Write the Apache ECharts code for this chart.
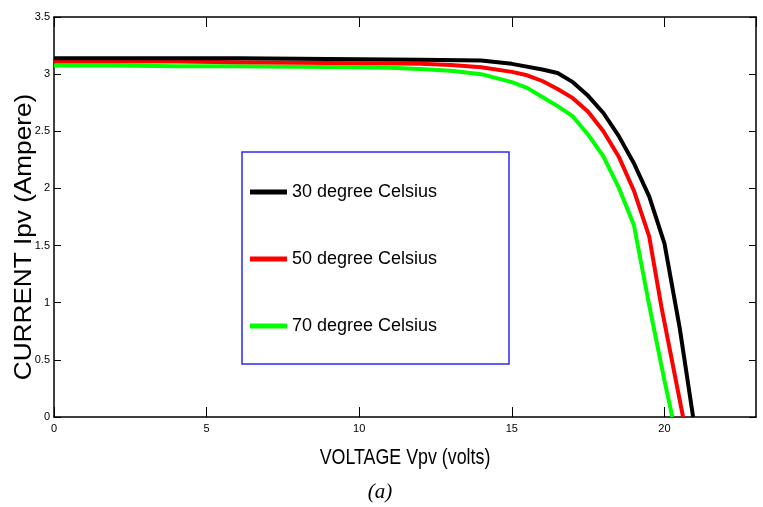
<!DOCTYPE html>
<html>
<head>
<meta charset="utf-8">
<script src="https://cdn.jsdelivr.net/npm/echarts@6/dist/echarts.min.js"></script>
<style>html,body{margin:0;padding:0;background:#fff}#c{width:763px;height:507px}</style>
</head>
<body>
<div id="c"></div>
<script>
// Data
const seriesNames = ['30 degree Celsius', '50 degree Celsius', '70 degree Celsius'];
const V30 = [0, 2, 4, 6, 8, 10, 12, 14, 15, 16, 16.5, 17, 17.5, 18, 18.5, 19, 19.5, 20, 20.5, 20.94];
const I30 = [3.14, 3.14, 3.14, 3.14, 3.135, 3.13, 3.125, 3.12, 3.09, 3.04, 3.01, 2.93, 2.81, 2.66, 2.46, 2.22, 1.93, 1.52, 0.78, 0];
const V50 = [0, 2, 4, 6, 8, 10, 12, 13, 14, 15, 15.5, 16, 16.5, 17, 17.5, 18, 18.5, 19, 19.5, 19.9, 20.61];
const I50 = [3.11, 3.11, 3.11, 3.105, 3.10, 3.095, 3.09, 3.08, 3.06, 3.02, 2.99, 2.94, 2.87, 2.79, 2.67, 2.50, 2.28, 1.98, 1.58, 0.965, 0];
const V70 = [0, 2, 4, 6, 8, 10, 11, 12, 13, 14, 15, 15.5, 16, 16.5, 17, 17.5, 18, 18.5, 19, 19.5, 20, 20.26];
const I70 = [3.075, 3.075, 3.07, 3.07, 3.065, 3.06, 3.056, 3.045, 3.03, 3.0, 2.93, 2.88, 2.80, 2.72, 2.63, 2.47, 2.28, 2.01, 1.68, 0.98, 0.32, 0];
const xTicks = {min: 0, max: 23, interval: 5};
const yTicks = {min: 0, max: 3.5, interval: 0.5};
const xTitle = 'VOLTAGE Vpv (volts)';
const yTitle = 'CURRENT Ipv (Ampere)';
const caption = '(a)';

const sans = "'Liberation Sans',Arial,sans-serif";
const colors = ['#000000', '#ff0000', '#00ff00'];
const pairs = [[V30, I30], [V50, I50], [V70, I70]];

const chart = echarts.init(document.getElementById('c'), null, {renderer: 'canvas'});
const axisLine = {show: true, onZero: false, lineStyle: {color: '#000', width: 1.5}};
const option = {
  animation: false,
  backgroundColor: '#fff',
  grid: {left: 54, right: 7, top: 17, bottom: 90, containLabel: false},
  xAxis: [{
    type: 'value', position: 'bottom', min: xTicks.min, max: xTicks.max, interval: xTicks.interval,
    axisLine: axisLine, splitLine: {show: false},
    axisTick: {inside: true, length: 10, lineStyle: {color: '#000', width: 1}},
    axisLabel: {color: '#000', fontSize: 11, fontFamily: sans, margin: 6, showMaxLabel: false}
  }, {
    type: 'value', position: 'top', min: xTicks.min, max: xTicks.max, interval: xTicks.interval,
    axisLine: axisLine, splitLine: {show: false},
    axisTick: {inside: true, length: 10, lineStyle: {color: '#000', width: 1}},
    axisLabel: {show: false}
  }],
  yAxis: [{
    type: 'value', position: 'left', min: yTicks.min, max: yTicks.max, interval: yTicks.interval,
    axisLine: axisLine, splitLine: {show: false},
    axisTick: {inside: true, length: 7, lineStyle: {color: '#000', width: 1}},
    axisLabel: {color: '#000', fontSize: 11, fontFamily: sans, margin: 4}
  }, {
    type: 'value', position: 'right', min: yTicks.min, max: yTicks.max, interval: yTicks.interval,
    axisLine: axisLine, splitLine: {show: false},
    axisTick: {inside: true, length: 7, lineStyle: {color: '#000', width: 1}},
    axisLabel: {show: false}
  }],
  legend: {
    orient: 'vertical', left: 250, top: 183, itemGap: 49, padding: 0,
    itemWidth: 37, itemHeight: 5, icon: 'rect',
    textStyle: {color: '#000', fontSize: 18, fontFamily: sans},
    data: seriesNames
  },
  graphic: [
    {type: 'rect', z: 0, shape: {x: 242, y: 152, width: 267, height: 212},
     style: {fill: '#fff', stroke: '#2a2aff', lineWidth: 1.5}},
    {type: 'text', x: 24, y: 237, rotation: Math.PI / 2, scaleX: 1.09,
     style: {text: yTitle, fill: '#000', fontSize: 24,
       fontFamily: sans, align: 'center', verticalAlign: 'middle'}},
    {type: 'text', x: 405, y: 458, scaleX: 0.81,
     style: {text: xTitle, fill: '#000', fontSize: 22,
       fontFamily: sans, align: 'center', verticalAlign: 'middle'}},
    {type: 'text', x: 380, y: 492,
     style: {text: caption, fill: '#000', fontSize: 21, fontStyle: 'italic',
       fontFamily: "'Liberation Serif','Times New Roman',serif", align: 'center', verticalAlign: 'middle'}}
  ],
  series: pairs.map((p, k) => ({
    name: seriesNames[k], type: 'line', showSymbol: false, symbol: 'none',
    color: colors[k], z: 10 - k,
    lineStyle: {color: colors[k], width: 4},
    data: p[0].map((v, i) => [v, p[1][i]])
  }))
};
chart.setOption(option);
</script>
</body>
</html>
